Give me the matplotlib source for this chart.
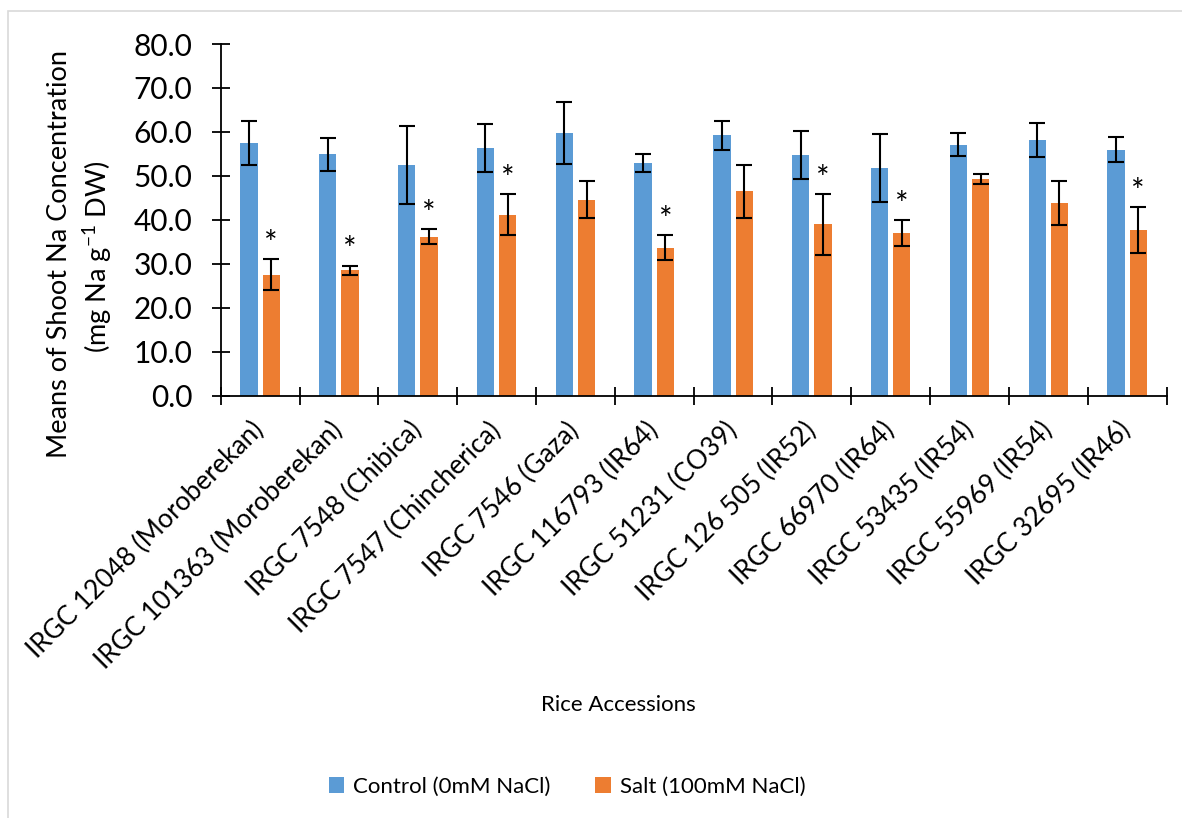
import matplotlib
matplotlib.use("Agg")
import matplotlib.pyplot as plt
from matplotlib.patches import Rectangle
import numpy as np

# Shoot Na concentration per rice accession (mg Na g-1 DW)
accessions = [
    "IRGC 12048 (Moroberekan)",
    "IRGC 101363 (Moroberekan)",
    "IRGC 7548 (Chibica)",
    "IRGC 7547 (Chincherica)",
    "IRGC 7546 (Gaza)",
    "IRGC 116793 (IR64)",
    "IRGC 51231 (CO39)",
    "IRGC 126 505 (IR52)",
    "IRGC 66970 (IR64)",
    "IRGC 53435 (IR54)",
    "IRGC 55969 (IR54)",
    "IRGC 32695 (IR46)",
]
control_mean = [57.5, 54.9, 52.5, 56.3, 59.8, 52.9, 59.2, 54.7, 51.8, 57.1, 58.2, 56.0]
control_err = [5.0, 3.8, 8.8, 5.4, 7.1, 2.0, 3.2, 5.4, 7.8, 2.6, 3.9, 2.9]
salt_mean = [27.5, 28.5, 36.2, 41.2, 44.6, 33.7, 46.5, 39.0, 37.0, 49.3, 43.8, 37.7]
salt_err = [3.5, 1.1, 1.7, 4.7, 4.2, 2.9, 6.0, 6.9, 3.0, 1.2, 5.0, 5.2]
significant = [True, True, True, True, False, True, False, True, True, False, False, True]

series_labels = ["Control (0mM NaCl)", "Salt (100mM NaCl)"]
y_ticks = [0, 10, 20, 30, 40, 50, 60, 70, 80]

plt.rcParams["font.family"] = ["Lato", "DejaVu Sans"]

W, H = 1182, 818
fig = plt.figure(figsize=(W / 100, H / 100), dpi=100)
ax = fig.add_axes([220.7 / W, 1 - 395.7 / H, (1166.6 - 220.7) / W, (395.7 - 44) / H])

# light chart-area frame
fig.patches.append(Rectangle((8 / W, -0.1), 1.2, 1 - 11 / H + 0.1, transform=fig.transFigure,
                             fill=False, edgecolor="#d9d9d9", linewidth=1.2))

x = np.arange(len(accessions))
bw = 0.22
off = 0.141
blue = "#5B9BD5"
orange = "#ED7D31"
err_kw = dict(ecolor="black", elinewidth=1.5, capsize=6, capthick=1.5)

ax.bar(x - off, control_mean, bw, yerr=control_err, color=blue, label=series_labels[0],
       error_kw=err_kw, zorder=2)
ax.bar(x + off, salt_mean, bw, yerr=salt_err, color=orange, label=series_labels[1],
       error_kw=err_kw, zorder=2)

for i, sig in enumerate(significant):
    if sig:
        ax.text(x[i] + off, salt_mean[i] + salt_err[i] - 0.2, "*", ha="center", va="bottom",
                fontsize=23, color="black")

ax.set_xlim(-0.5, len(accessions) - 0.5)
ax.set_ylim(0, 80)
ax.set_yticks(y_ticks)
ax.set_yticklabels([f"{v:.1f}" for v in y_ticks])
ax.set_xticks(np.arange(len(accessions) + 1) - 0.5)
ax.set_xticklabels([])
ax.set_xticks(x, minor=True)
ax.set_xticklabels(accessions, minor=True, rotation=45, ha="right", va="center",
                   rotation_mode="anchor", fontsize=19)

for s in ["top", "right"]:
    ax.spines[s].set_visible(False)
for s in ["left", "bottom"]:
    ax.spines[s].set_linewidth(1.3)

ax.tick_params(axis="y", which="major", direction="inout", length=13, width=1.3,
               labelsize=21.5, pad=14)
ax.tick_params(axis="x", which="major", direction="inout", length=13, width=1.3)
ax.tick_params(axis="x", which="minor", length=0, pad=22)

fig.text(60 / W, 1 - 254 / H, "Means of Shoot Na Concentration", rotation=90,
         ha="center", va="center", fontsize=19.5)
fig.text(97 / W, 1 - 257 / H, r"(mg Na g$^{\mathregular{-1}}$ DW)", rotation=90,
         ha="center", va="center", fontsize=19.5)

fig.text(618 / W, 1 - 705 / H, "Rice Accessions", ha="center", va="center", fontsize=16)

fig.legend(loc="center", bbox_to_anchor=(567 / W, 1 - 787 / H), ncol=2, frameon=False,
           fontsize=16, handlelength=0.7, handleheight=0.7, columnspacing=2.0,
           handletextpad=0.4)

fig.savefig("out.png", dpi=100)
